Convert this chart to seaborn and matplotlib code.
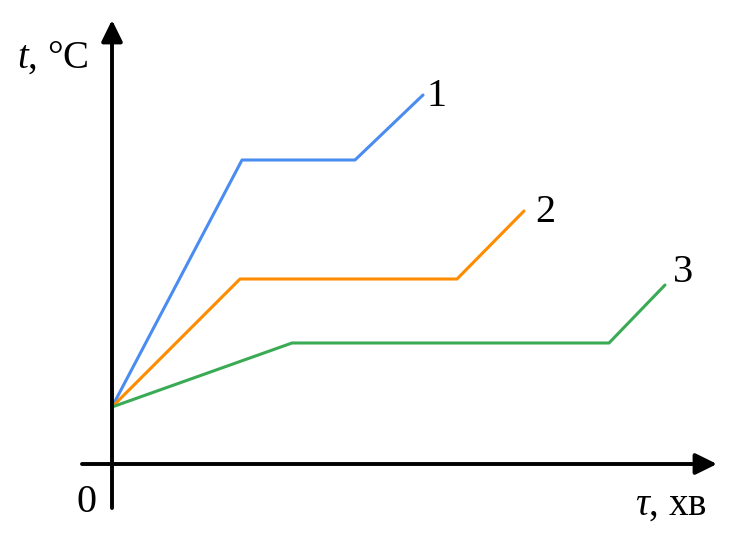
import numpy as np
import pandas as pd
import matplotlib
matplotlib.use("Agg")
import matplotlib.pyplot as plt
import seaborn as sns

# Heating curves 1, 2, 3 (arbitrary units)
tau_1 = [0, 130, 243, 311]
temp_1 = [57, 304, 304, 369]
tau_2 = [0, 128, 345, 412]
temp_2 = [57, 185, 185, 253]
tau_3 = [0, 180, 497, 553]
temp_3 = [57, 121, 121, 179]
curve_labels = ["1", "2", "3"]
colors = ["#4a8cf0", "#ff8c00", "#3aaa55"]

df = pd.concat(
    [
        pd.DataFrame({"tau": tau_1, "temp": temp_1, "curve": "1"}),
        pd.DataFrame({"tau": tau_2, "temp": temp_2, "curve": "2"}),
        pd.DataFrame({"tau": tau_3, "temp": temp_3, "curve": "3"}),
    ]
)

sns.set_style("white")
plt.rcParams["font.family"] = ["Liberation Serif", "DejaVu Serif"]
plt.rcParams["mathtext.fontset"] = "custom"
plt.rcParams["mathtext.rm"] = "Liberation Serif"
plt.rcParams["mathtext.it"] = "Liberation Serif:italic"

fig = plt.figure(figsize=(7.36, 5.34), dpi=100)
ax = fig.add_axes([0, 0, 1, 1])

sns.lineplot(
    data=df, x="tau", y="temp", hue="curve", palette=colors,
    sort=False, estimator=None, linewidth=2.2, legend=False, ax=ax,
)

# axes with arrows
arrow = dict(arrowstyle="-|>,head_length=0.65,head_width=0.32", color="black",
             lw=2.8, shrinkA=0, shrinkB=0, mutation_scale=20)
ax.annotate("", xy=(0, 444), xytext=(0, -44), arrowprops=arrow)
ax.annotate("", xy=(605, 0), xytext=(-30, 0), arrowprops=arrow)

# curve numbers at line ends
ends = [(tau_1[-1], temp_1[-1]), (tau_2[-1], temp_2[-1]), (tau_3[-1], temp_3[-1])]
offsets = [(13, -2), (21, -2), (18, 12)]
for lab, (x, y), (dx, dy) in zip(curve_labels, ends, offsets):
    ax.text(x + dx, y + dy, lab, fontsize=29, color="black", ha="center", va="center")

ax.text(-25, -38, "0", fontsize=29, color="black", ha="center", va="center")
ax.text(-95, 406, "$t$, °C", fontsize=28, color="black", ha="left", va="center")
ax.text(523, -41, "$\\tau$, хв", fontsize=28, color="black", ha="left", va="center")

ax.set_xlim(-112, 624)
ax.set_ylim(-70, 464)
ax.axis("off")

fig.savefig("out.png", dpi=100)
